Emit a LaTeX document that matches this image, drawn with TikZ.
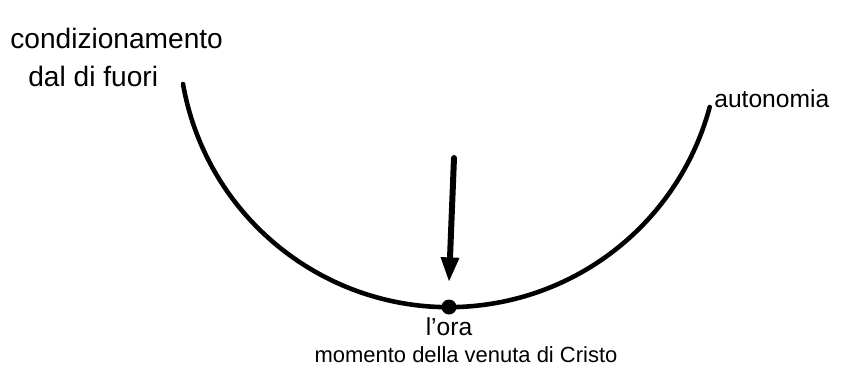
\documentclass[tikz,border=0pt]{standalone}
\usepackage{fontspec}
\setmainfont{Liberation Sans}
\usetikzlibrary{positioning,arrows.meta}

\begin{document}
\begin{tikzpicture}[
  x=0.02cm, y=0.02cm,
  hand/.style={font=\fontsize{14}{15}\selectfont, inner sep=0pt, align=left},
  bow/.style={line width=2.6pt, line cap=round},
  arrow/.style={-{Triangle[length=5mm, width=3.4mm]}, line width=3.4pt, line cap=round},
  dot/.style={circle, fill=black, inner sep=0pt, minimum size=3mm}
]
\useasboundingbox (0,0) rectangle (847,379);

% the bow: from outer conditioning to autonomy
\coordinate (left) at (183,295);
\coordinate (right) at (710,272);
\draw[bow] (left) arc[start angle=190, end angle=345, radius=270];

% the hour (lowest point) and the arrow coming down onto it
\node[dot] (ora) at (449,72) {};
\coordinate (top) at (454,221);
\draw[arrow] (top) -- ([yshift=14]ora.center);

% labels
\node[hand, font=\fontsize{16}{17}\selectfont, anchor=west] (cond) at (10,341) {condizionamento};
\node[hand, font=\fontsize{16}{17}\selectfont, anchor=west] (fuori) at (28,303) {dal di fuori};
\node[hand, anchor=west] (auto) at (714,280) {autonomia};
\node[hand] (lora) at (449,52) {l'ora};
\node[hand, font=\fontsize{12.5}{14}\selectfont] (venuta) at (466,24) {momento della venuta di Cristo};
\end{tikzpicture}
\end{document}
